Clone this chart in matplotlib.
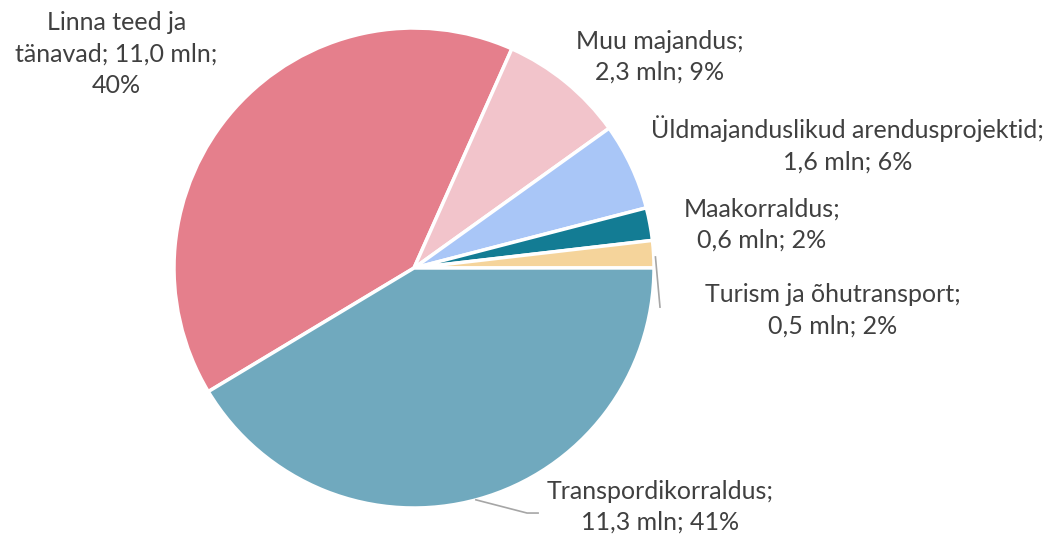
import numpy as np
import matplotlib.pyplot as plt

labels = ["Linna teed ja\ntänavad; 11,0 mln;\n40%",
          "Muu majandus;\n2,3 mln; 9%",
          "Üldmajanduslikud arendusprojektid;\n1,6 mln; 6%",
          "Maakorraldus;\n0,6 mln; 2%",
          "Turism ja õhutransport;\n0,5 mln; 2%",
          "Transpordikorraldus;\n11,3 mln; 41%"]
values = [11.0, 2.3, 1.6, 0.6, 0.5, 11.3]
colors = ["#E57F8C", "#F2C4CB", "#A9C6F7", "#137C94", "#F5D49B", "#70A9BE"]

# label centres in pie units (radius = 1, centre = 0,0)
label_pos = [(-1.24, 0.89), (1.025, 0.88), (1.805, 0.515),
             (1.45, 0.18), (1.745, -0.175), (1.025, -0.995)]

fig = plt.figure(figsize=(10.51, 5.36), dpi=100)
ax = fig.add_axes([0, 0, 1, 1])
ax.pie(values, colors=colors, startangle=-149, counterclock=False,
       radius=1, wedgeprops=dict(edgecolor="white", linewidth=2.5))

for txt, (x, y) in zip(labels, label_pos):
    ax.text(x, y, txt, ha="center", va="center", fontsize=18,
            family="Lato", color="#404040", linespacing=1.45)

# leader lines
ax.plot([1.006, 1.025], [0.046, -0.163], color="#A6A6A6", lw=1.2)
ax.plot([0.258, 0.471, 0.517], [-0.966, -1.021, -1.021], color="#A6A6A6", lw=1.2)

# map pixel frame: centre (414,268), radius 240
W, H = 1051, 536
cx, cy, r = 414, 268, 240
ax.set_xlim(-cx / r, (W - cx) / r)
ax.set_ylim(-(H - cy) / r, cy / r)
ax.set_aspect("auto")
ax.axis("off")

fig.savefig("out.png", dpi=100)
